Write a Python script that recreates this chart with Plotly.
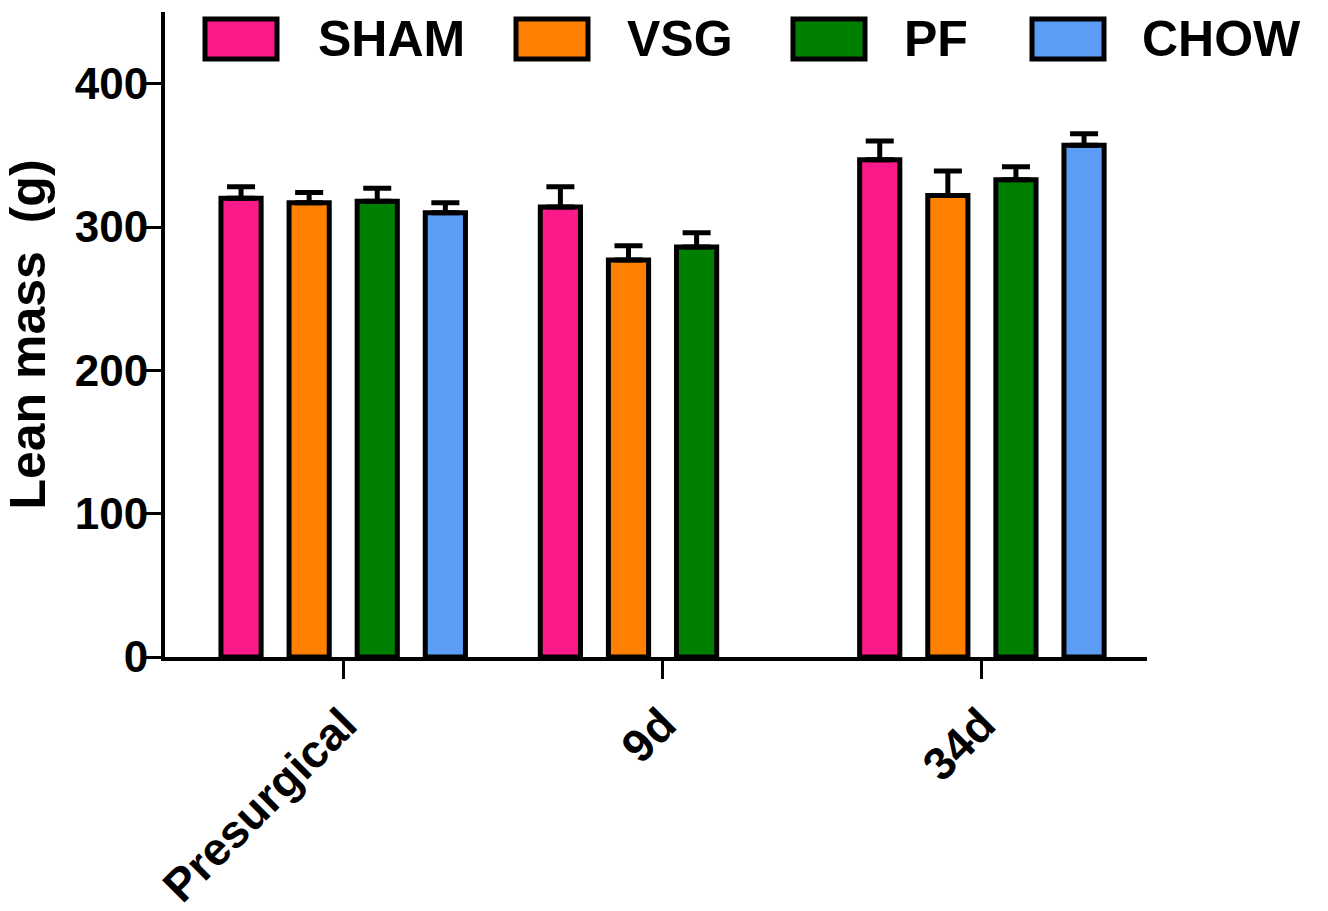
import plotly.graph_objects as go

# ---- data ----
categories = ["Presurgical", "9d", "34d"]
groups = ["SHAM", "VSG", "PF", "CHOW"]
colors = ["#FC1A8A", "#FF8000", "#008000", "#5B9CF5"]
sham = [320, 314, 347]
vsg = [317, 277, 322]
pf = [318, 286, 333]
chow = [310, None, 357]
sham_err = [8, 14, 13]
vsg_err = [7, 10, 17]
pf_err = [9, 10, 9]
chow_err = [7, None, 8]
y_ticks = [0, 100, 200, 300, 400]

values = [sham, vsg, pf, chow]
errors = [sham_err, vsg_err, pf_err, chow_err]

W, H = 1328, 911
L, R, T, B = 165, 181, 12, 254
FONT = "Arial, Liberation Sans, sans-serif"

fig = go.Figure()
for name, vals, errs, col in zip(groups, values, errors, colors):
    fig.add_trace(go.Bar(
        name=name, x=categories, y=vals,
        marker=dict(color=col, line=dict(color="black", width=5)),
        error_y=dict(type="data", array=errs, arrayminus=[0] * len(errs),
                     symmetric=False, color="black", thickness=5, width=14),
        showlegend=False,
    ))

# custom legend (large swatches like the original)
pw = W - L - R
ph = H - T - B
def px_x(p):
    return (p - L) / pw
def px_y(p):
    return (H - B - p) / ph

sw_left = [205, 516, 793, 1032]
txt_left = [316, 625, 902, 1140]
shapes = []
annotations = []
for name, col, s, t in zip(groups, colors, sw_left, txt_left):
    shapes.append(dict(type="rect", xref="paper", yref="paper",
                       x0=px_x(s), x1=px_x(s + 72), y0=px_y(59), y1=px_y(19),
                       fillcolor=col, line=dict(color="black", width=5)))
    annotations.append(dict(xref="paper", yref="paper", x=px_x(t), y=px_y(39),
                            text=name, showarrow=False, xanchor="left", yanchor="middle",
                            font=dict(family=FONT, size=50, color="black", weight="bold")))

fig.update_layout(
    width=W, height=H,
    margin=dict(l=L, r=R, t=T, b=B, autoexpand=False),
    paper_bgcolor="white", plot_bgcolor="white",
    barmode="group", bargap=0.147, bargroupgap=0.41,
    shapes=shapes, annotations=annotations,
    showlegend=False,
)
fig.update_xaxes(
    type="category", range=[-0.558, 2.517],
    showline=True, linecolor="black", linewidth=4,
    ticks="outside", ticklen=18, tickwidth=3, tickcolor="black",
    tickangle=-45, showgrid=False, zeroline=False,
    tickfont=dict(family=FONT, size=46, color="black", weight="bold"),
)
fig.update_yaxes(
    range=[0, 450], tickvals=y_ticks,
    showline=True, linecolor="black", linewidth=4,
    ticks="outside", ticklen=18, tickwidth=3, tickcolor="black",
    showgrid=False, zeroline=False, ticklabelstandoff=-14,
    tickfont=dict(family=FONT, size=44, color="black", weight="bold"),
    title=dict(text="Lean mass  (g)", standoff=22,
               font=dict(family=FONT, size=50, color="black", weight="bold")),
)

fig.write_html("out.html")
